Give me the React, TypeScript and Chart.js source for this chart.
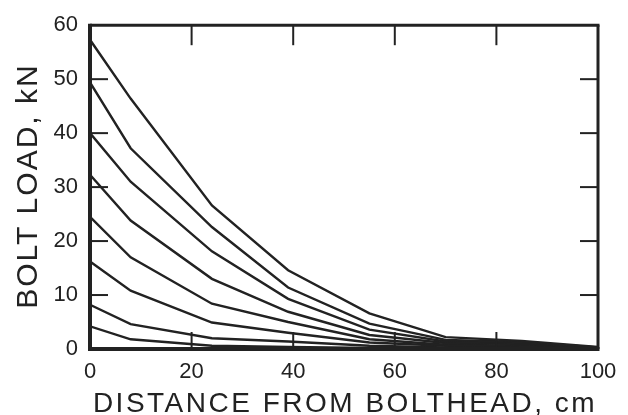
import React, { useEffect, useRef } from "react";
import { Chart, registerables } from "chart.js";

Chart.register(...registerables);

// Distance from bolthead (cm) at which the loads were measured
const distances = [0, 8, 24, 39, 55, 70, 85, 100];

// Bolt load (kN) curves, from the highest to the lowest head load
const load1 = [57.3, 46.4, 26.6, 14.6, 6.6, 2.2, 1.5, 0.4];
const load2 = [49.4, 37.2, 22.6, 11.4, 4.7, 1.7, 1.3, 0.3];
const load3 = [40.0, 31.0, 18.1, 9.3, 3.6, 1.4, 1.1, 0.25];
const load4 = [32.3, 23.8, 13.0, 6.9, 2.6, 1.1, 0.9, 0.2];
const load5 = [24.5, 17.0, 8.4, 5.0, 1.8, 0.8, 0.6, 0.15];
const load6 = [16.2, 10.8, 4.9, 3.0, 1.2, 0.6, 0.4, 0.1];
const load7 = [8.2, 4.6, 2.0, 1.4, 0.6, 0.3, 0.2, 0.05];
const load8 = [4.2, 1.8, 0.6, 0.4, 0.2, 0.1, 0.05, 0.0];

const allLoads = [load1, load2, load3, load4, load5, load6, load7, load8];

const xTicks = [0, 20, 40, 60, 80, 100];
const yTicks = [0, 10, 20, 30, 40, 50, 60];

const xTitle = "DISTANCE FROM BOLTHEAD, cm";
const yTitle = "BOLT LOAD, kN";

const INK = "#222222";
const FONT = "'Liberation Sans', Arial, Helvetica, sans-serif";

const framePlugin = {
  id: "frame",
  afterDatasetsDraw(chart: any) {
    const { ctx, chartArea } = chart;
    const { left, right, top, bottom } = chartArea;
    const xs = chart.scales.x;
    const ys = chart.scales.y;
    ctx.save();
    ctx.strokeStyle = INK;
    ctx.lineCap = "butt";
    const seg = (x1: number, y1: number, x2: number, y2: number) => {
      ctx.beginPath();
      ctx.moveTo(x1, y1);
      ctx.lineTo(x2, y2);
      ctx.stroke();
    };
    ctx.lineWidth = 2;
    xTicks.slice(1, -1).forEach((v) => {
      const px = xs.getPixelForValue(v);
      seg(px, top, px, top + 20);
      seg(px, bottom, px, bottom - 17);
    });
    yTicks.slice(1, -1).forEach((v) => {
      const py = ys.getPixelForValue(v);
      seg(left, py, left + 18, py);
      seg(right, py, right - 18, py);
    });
    ctx.lineWidth = 3;
    seg(left, top, right + 1.5, top);
    seg(right, top, right, bottom);
    ctx.lineWidth = 4;
    seg(left, top - 1.5, left, bottom + 2);
    seg(left - 2, bottom, right + 1.5, bottom);
    ctx.restore();
  },
  afterDraw(chart: any) {
    const { ctx, chartArea } = chart;
    const { left, right, top, bottom } = chartArea;
    ctx.save();
    ctx.fillStyle = INK;
    ctx.textBaseline = "alphabetic";
    ctx.textAlign = "center";
    // x-axis title
    ctx.font = `28px ${FONT}`;
    (ctx as any).letterSpacing = "2.5px";
    ctx.fillText(xTitle, (left + right) / 2 + 1, 412);
    // y-axis title
    ctx.font = `30px ${FONT}`;
    (ctx as any).letterSpacing = "2px";
    ctx.translate(37, (top + bottom) / 2);
    ctx.rotate(-Math.PI / 2);
    ctx.fillText(yTitle, 1, 0);
    ctx.restore();
  },
};

export default function App() {
  const ref = useRef<HTMLCanvasElement | null>(null);

  useEffect(() => {
    if (!ref.current) return;
    const chart = new Chart(ref.current, {
      type: "scatter",
      data: {
        datasets: allLoads.map((series, i) => ({
          label: `Load ${i + 1}`,
          data: distances.map((d, j) => ({ x: d, y: series[j] })),
          showLine: true,
          borderColor: INK,
          backgroundColor: INK,
          borderWidth: 2.4,
          pointRadius: 0,
          tension: 0,
        })),
      },
      options: {
        animation: false,
        responsive: false,
        layout: { padding: { top: 20, right: 30, left: 0, bottom: 0 } },
        plugins: {
          legend: { display: false },
          tooltip: { enabled: false },
        },
        scales: {
          x: {
            type: "linear",
            min: 0,
            max: 100,
            afterFit: (s: any) => {
              s.height = 66;
            },
            afterBuildTicks: (s: any) => {
              s.ticks = xTicks.map((v) => ({ value: v }));
            },
            grid: { display: false, drawTicks: false },
            border: { display: false },
            ticks: {
              color: INK,
              padding: 10,
              maxRotation: 0,
              font: { family: FONT, size: 22 },
            },
            title: { display: false, text: xTitle },
          },
          y: {
            type: "linear",
            min: 0,
            max: 60,
            afterFit: (s: any) => {
              s.width = 90;
            },
            afterBuildTicks: (s: any) => {
              s.ticks = yTicks.map((v) => ({ value: v }));
            },
            grid: { display: false, drawTicks: false },
            border: { display: false },
            ticks: {
              color: INK,
              padding: 12,
              font: { family: FONT, size: 22 },
            },
            title: { display: false, text: yTitle },
          },
        },
      },
      plugins: [framePlugin],
    });
    return () => chart.destroy();
  }, []);

  return (
    <div
      style={{
        position: "fixed",
        left: 0,
        top: 0,
        width: 628,
        height: 415,
        background: "#ffffff",
      }}
    >
      <canvas ref={ref} width={628} height={415} style={{ width: 628, height: 415, display: "block" }} />
    </div>
  );
}
